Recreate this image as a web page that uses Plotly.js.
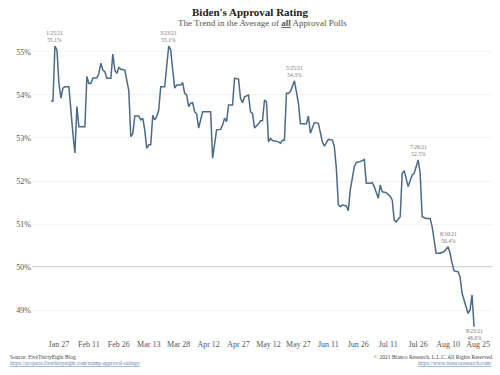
<!DOCTYPE html>
<html>
<head>
<meta charset="utf-8">
<script src="https://cdn.plot.ly/plotly-3.0.1.min.js"></script>
<style>html,body{margin:0;padding:0;background:#fff;}#chart{width:500px;height:375px;}</style>
</head>
<body>
<div id="chart"></div>
<script>
// Daily average approval (%)
const dates = [
"2021-01-23","2021-01-24","2021-01-25","2021-01-26","2021-01-27","2021-01-28","2021-01-29","2021-01-30",
"2021-02-01","2021-02-02","2021-02-03","2021-02-04","2021-02-05","2021-02-06","2021-02-09","2021-02-10",
"2021-02-11","2021-02-12","2021-02-13","2021-02-15","2021-02-16","2021-02-17","2021-02-18","2021-02-19",
"2021-02-20","2021-02-22","2021-02-23","2021-02-24","2021-02-25","2021-02-26","2021-02-27","2021-03-01",
"2021-03-03","2021-03-04","2021-03-05","2021-03-06","2021-03-08","2021-03-09","2021-03-10","2021-03-11",
"2021-03-12","2021-03-13","2021-03-14","2021-03-15","2021-03-16","2021-03-17","2021-03-18","2021-03-19",
"2021-03-21","2021-03-23","2021-03-24","2021-03-25","2021-03-26","2021-03-27","2021-03-29","2021-03-30",
"2021-03-31","2021-04-01","2021-04-02","2021-04-03","2021-04-04","2021-04-05","2021-04-06","2021-04-07",
"2021-04-09","2021-04-13","2021-04-14","2021-04-16","2021-04-18","2021-04-19","2021-04-20","2021-04-21",
"2021-04-22","2021-04-24","2021-04-25","2021-04-27","2021-04-28","2021-04-29","2021-04-30","2021-05-02",
"2021-05-03","2021-05-04","2021-05-05","2021-05-07","2021-05-08","2021-05-09","2021-05-10","2021-05-11",
"2021-05-12","2021-05-13","2021-05-14","2021-05-17","2021-05-18","2021-05-19","2021-05-20","2021-05-21",
"2021-05-22","2021-05-23","2021-05-25","2021-05-27","2021-05-28","2021-05-31","2021-06-01","2021-06-02",
"2021-06-04","2021-06-06","2021-06-07","2021-06-08","2021-06-09","2021-06-11","2021-06-13","2021-06-14",
"2021-06-15","2021-06-16","2021-06-17","2021-06-18","2021-06-20","2021-06-21","2021-06-22","2021-06-24",
"2021-06-25","2021-06-27","2021-06-29","2021-06-30","2021-07-02","2021-07-03","2021-07-04","2021-07-06",
"2021-07-07","2021-07-08","2021-07-10","2021-07-12","2021-07-13","2021-07-14","2021-07-15","2021-07-17",
"2021-07-18","2021-07-19","2021-07-21","2021-07-23","2021-07-24","2021-07-26","2021-07-27","2021-07-28",
"2021-07-30","2021-08-01","2021-08-02","2021-08-03","2021-08-04","2021-08-06","2021-08-08","2021-08-10",
"2021-08-11","2021-08-12","2021-08-13","2021-08-15","2021-08-16","2021-08-17","2021-08-19","2021-08-20",
"2021-08-21","2021-08-22","2021-08-23"
];
const approval = [
53.86,53.86,55.14,55.05,54.27,53.93,54.16,54.19,
54.19,53.60,53.10,52.65,53.73,53.26,53.26,54.43,
54.27,54.27,54.39,54.40,54.50,54.74,54.58,54.54,
54.39,54.39,54.95,54.58,54.50,54.64,54.60,54.58,
54.10,53.03,53.10,53.51,53.51,53.42,53.46,53.19,
52.76,52.84,52.84,53.53,53.42,53.50,53.65,54.19,
54.19,55.14,55.05,54.58,54.16,54.23,54.23,54.29,
54.04,54.00,53.73,53.81,53.82,53.61,53.56,53.23,
53.61,53.61,52.53,53.19,53.20,53.30,53.46,53.38,
53.77,53.77,54.39,54.37,53.92,53.82,53.96,54.00,
53.61,53.57,53.23,53.33,53.40,53.40,53.88,53.84,
52.91,52.99,52.94,52.91,52.88,52.95,52.95,54.04,
54.04,54.08,54.33,53.81,53.33,53.33,53.51,53.11,
53.36,53.34,53.11,52.91,52.81,52.97,52.95,52.80,
52.30,51.45,51.40,51.44,51.42,51.31,51.80,52.33,
52.43,52.45,52.50,51.95,51.95,51.96,51.87,51.60,
51.91,51.75,51.73,51.64,51.56,51.09,51.05,51.17,
52.18,52.24,51.87,52.14,52.18,52.49,52.18,51.17,
51.13,51.13,50.94,50.63,50.32,50.32,50.36,50.47,
50.32,50.09,49.91,49.89,49.77,49.39,49.08,48.92,
49.00,49.35,48.61
];

// x-axis ticks
const tickDates = ["2021-01-27","2021-02-11","2021-02-26","2021-03-13","2021-03-28","2021-04-12","2021-04-27",
  "2021-05-12","2021-05-27","2021-06-11","2021-06-26","2021-07-11","2021-07-26","2021-08-10","2021-08-25"];
const tickLabels = ["Jan 27","Feb 11","Feb 26","Mar 13","Mar 28","Apr 12","Apr 27",
  "May 12","May 27","Jun 11","Jun 26","Jul 11","Jul 26","Aug 10","Aug 25"];
const yTicks = [49,50,51,52,53,54,55];
const yTickLabels = ["49%","50%","51%","52%","53%","54%","55%"];

// labelled points
const labelDates = ["2021-01-25","2021-03-23","2021-05-25","2021-07-26","2021-08-10","2021-08-23"];
const labelValues = [55.14,55.14,54.33,52.49,50.47,48.61];
const labelTexts = ["1/25/21<br>55.1%","3/23/21<br>55.1%","5/25/21<br>54.3%","7/26/21<br>52.5%","8/10/21<br>50.4%","8/23/21<br>48.6%"];
const labelBelow = [false,false,false,false,false,true];

const serif = "Liberation Serif, DejaVu Serif, serif";

const annotations = labelDates.map((d,i)=>({
  x: d, y: labelValues[i], xref:'x', yref:'y',
  text: labelTexts[i], showarrow:false,
  yanchor: labelBelow[i] ? 'top' : 'bottom',
  yshift: labelBelow[i] ? 1 : 1,
  font:{family:serif, size:5.5, color:'#777'}
}));

annotations.push(
  {xref:'paper', yref:'paper', x:0.5, y:1, yanchor:'middle', yshift:12, showarrow:false,
   text:"The Trend in the Average of <b><u>all</u></b> Approval Polls",
   font:{family:serif, size:9, color:'#555'}},
  {xref:'paper', yref:'paper', x:-0.052, xanchor:'left', y:0, yanchor:'top', yshift:-14, showarrow:false,
   text:"Source: FiveThirtyEight Blog", align:'left',
   font:{family:serif, size:5.5, color:'#444'}},
  {xref:'paper', yref:'paper', x:-0.052, xanchor:'left', y:0, yanchor:'top', yshift:-20, showarrow:false,
   text:"<u>https://projects.fivethirtyeight.com/trump-approval-ratings/</u>", align:'left',
   font:{family:serif, size:5.5, color:'#5a86b8'}},
  {xref:'paper', yref:'paper', x:1.004, xanchor:'right', y:0, yanchor:'top', yshift:-14, showarrow:false,
   text:"© 2021 Bianco Research, L.L.C. All Rights Reserved", align:'right',
   font:{family:serif, size:5.5, color:'#444'}},
  {xref:'paper', yref:'paper', x:1.004, xanchor:'right', y:0, yanchor:'top', yshift:-20, showarrow:false,
   text:"<u>https://www.biancoresearch.com/</u>", align:'right',
   font:{family:serif, size:5.5, color:'#5a86b8'}}
);

const trace = {
  x: dates, y: approval, type:'scatter', mode:'lines',
  line:{color:'#4b6a88', width:1.5},
  hoverinfo:'skip'
};

const layout = {
  width:500, height:375,
  margin:{l:32, r:8, t:35, b:37},
  paper_bgcolor:'#fff', plot_bgcolor:'#fff',
  showlegend:false,
  title:{text:"<b>Biden's Approval Rating</b>", x:0.5, xanchor:'center', y:0.968, yanchor:'middle', yref:'container',
         font:{family:serif, size:11, color:'#222'}},
  xaxis:{
    type:'date', range:['2021-01-13 12:00','2021-09-01'],
    tickvals: tickDates, ticktext: tickLabels,
    showgrid:false, zeroline:false, showline:false, ticks:'',
    tickfont:{family:serif, size:8, color:'#555'}
  },
  yaxis:{
    range:[48.349, 55.395],
    tickvals: yTicks, ticktext: yTickLabels,
    showgrid:true, gridcolor:'#f3f3f3', gridwidth:1,
    zeroline:false, showline:false, ticks:'',
    tickfont:{family:serif, size:8, color:'#555'}
  },
  shapes:[{type:'line', xref:'paper', x0:0, x1:1, yref:'y', y0:50, y1:50,
           line:{color:'#a8a8a8', width:1}, layer:'below'}],
  annotations: annotations
};

Plotly.newPlot('chart', [trace], layout, {displayModeBar:false, staticPlot:true});
</script>
</body>
</html>
